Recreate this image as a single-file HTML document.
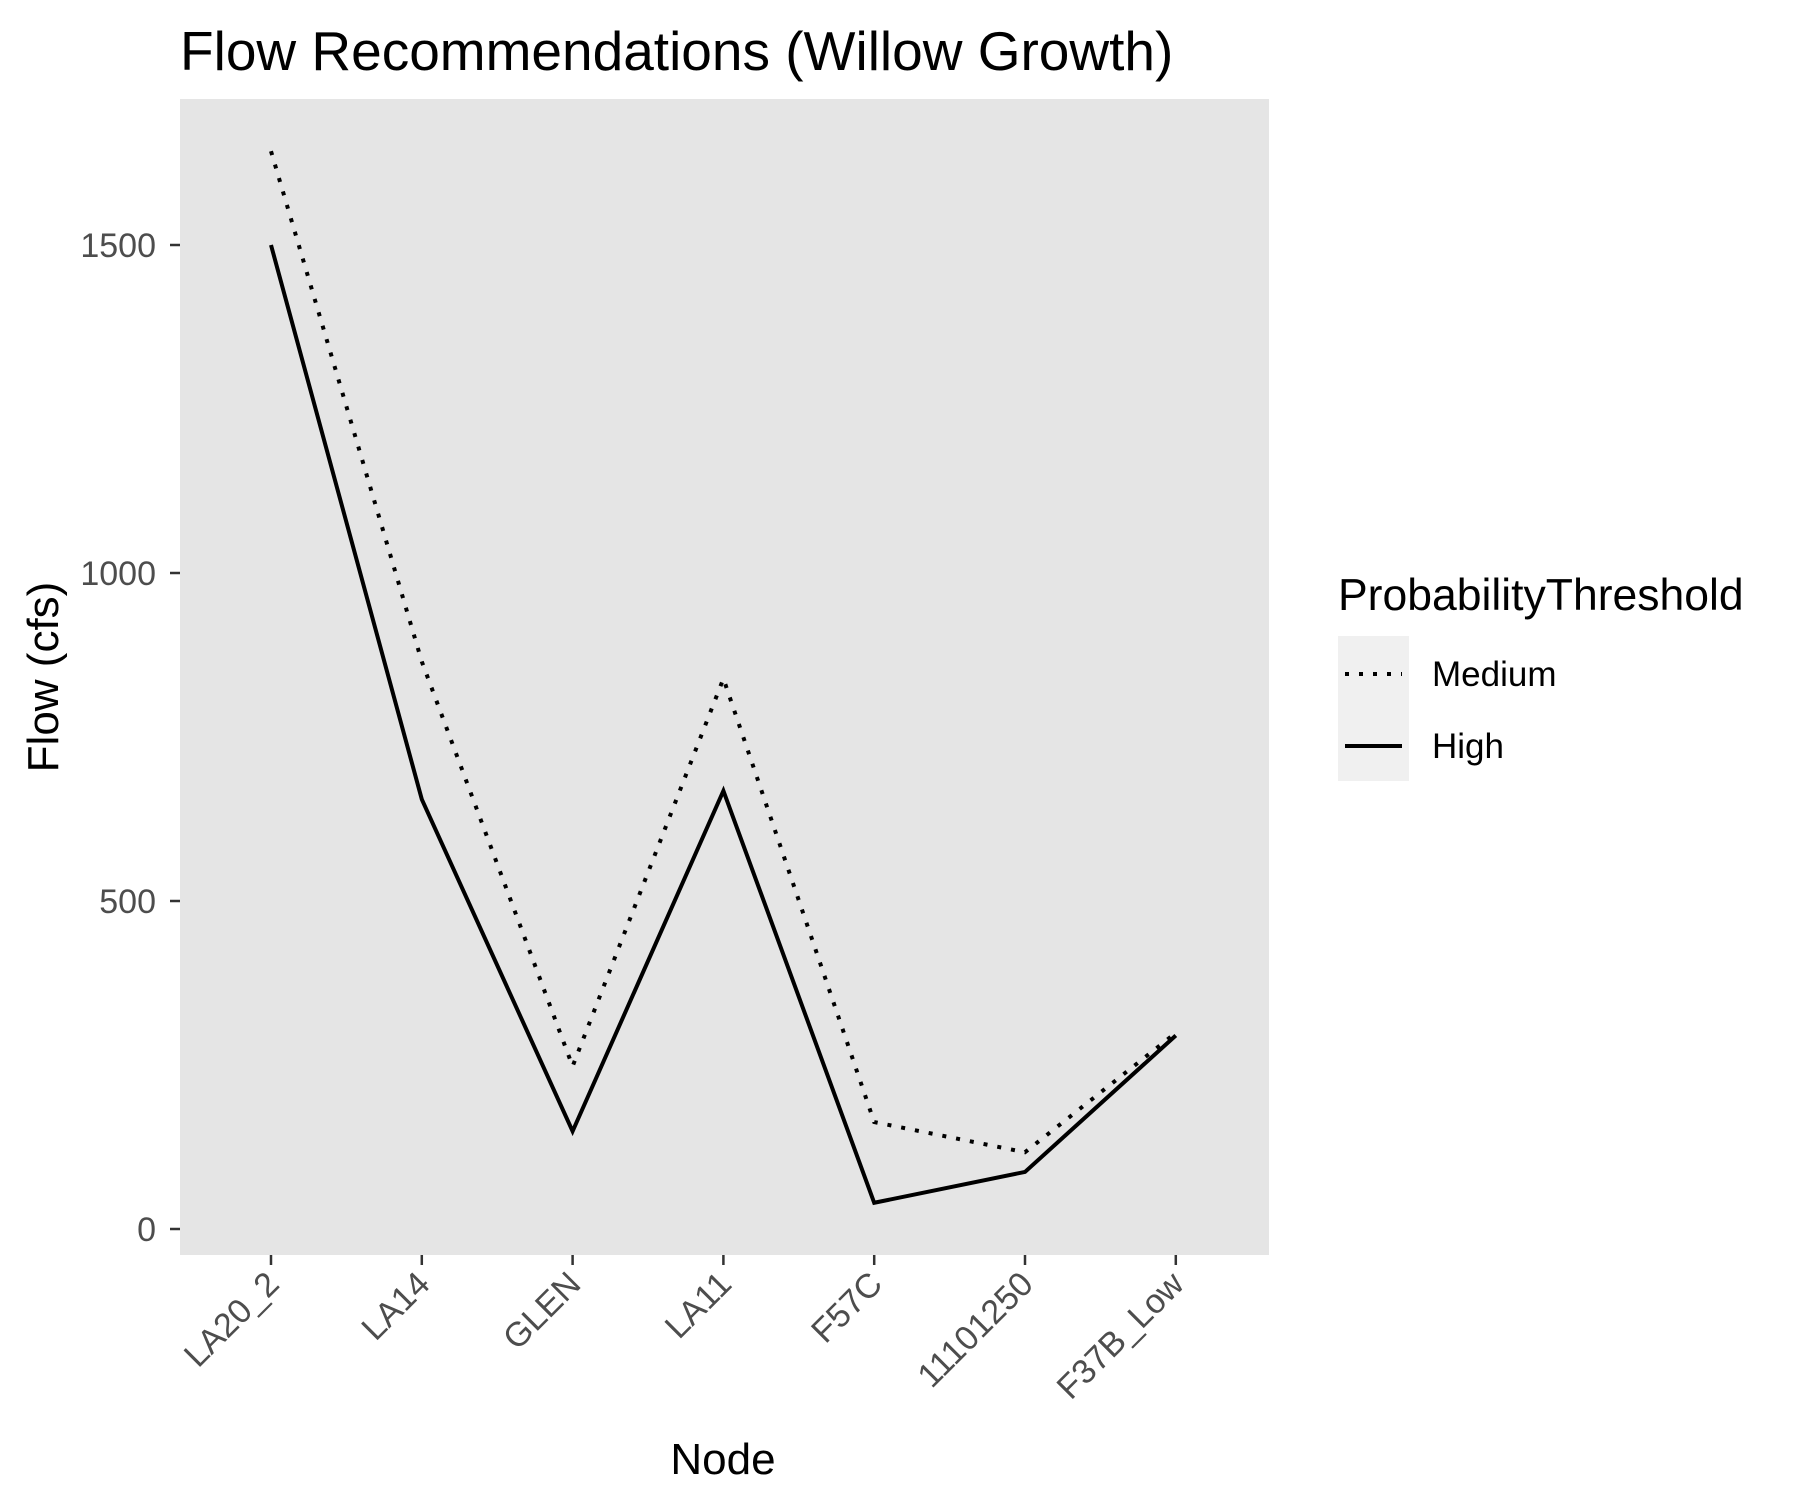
<!DOCTYPE html>
<html><head><meta charset="utf-8"><style>
body{margin:0;background:#fff}
svg{display:block;font-family:"Liberation Sans",Arial,sans-serif}
</style></head><body>
<svg id="chart" width="1800" height="1500" viewBox="0 0 1800 1500">
<text x="180" y="70" font-size="55" fill="#000">Flow Recommendations (Willow Growth)</text>
<rect x="180" y="99" width="1089" height="1156" fill="#e5e5e5"/>
<g id="grid"></g>
<g id="axes"></g>
<g id="series"></g>
<text transform="translate(58,677) rotate(-90)" text-anchor="middle" font-size="44">Flow (cfs)</text>
<text x="723" y="1474" text-anchor="middle" font-size="44">Node</text>
<g>
<text x="1338" y="610" font-size="44.5">ProbabilityThreshold</text>
<rect x="1338" y="636" width="71" height="145" fill="#f0f0f0"/>
<line x1="1345" y1="674" x2="1402" y2="674" stroke="#000" stroke-width="4" stroke-dasharray="4,10"/>
<text x="1432" y="686" font-size="35">Medium</text>
<line x1="1345" y1="746" x2="1402" y2="746" stroke="#000" stroke-width="4"/>
<text x="1432" y="758" font-size="35">High</text>
</g>
</svg>
<script>
const categories=["LA20_2","LA14","GLEN","LA11","F57C","11101250","F37B_Low"];
const highValues=[1500,655,149,668,40,87,295];
const mediumValues=[1643,865,248,839,163,117,299];
const yTicks=[0,500,1000,1500];
const NS="http://www.w3.org/2000/svg";
const x0=271,dx=150.8;
function xs(i){return x0+i*dx;}
function ys(v){return 1229-v*(984/1500);}
const axes=document.getElementById('axes');
function mk(tag,attrs,parent){const e=document.createElementNS(NS,tag);for(const k in attrs)e.setAttribute(k,attrs[k]);parent.appendChild(e);return e;}
yTicks.forEach(t=>{
 const y=ys(t);
 const tk=mk('line',{x1:170,x2:180,y1:y,y2:y,stroke:'#333','stroke-width':2.5},axes);
 
 
 const tx=mk('text',{x:156,y:y+12,'text-anchor':'end','font-size':34,fill:'#4d4d4d'},axes);
 
 
 tx.textContent=t;
});
categories.forEach((c,i)=>{
 const x=xs(i);
 const tk=mk('line',{x1:x,x2:x,y1:1255,y2:1265,stroke:'#333','stroke-width':2.5},axes);
 
 
 const tx=mk('text',{transform:`translate(${x+10},${1286}) rotate(-45)`,'text-anchor':'end','font-size':34,fill:'#4d4d4d'},axes);
 
 
 tx.textContent=c;
});
const series=document.getElementById('series');
function pts(vals){return vals.map((v,i)=>xs(i)+','+ys(v)).join(' ');}
const med=mk('polyline',{points:pts(mediumValues),fill:'none',stroke:'#000','stroke-width':4,'stroke-dasharray':'4,10'},series);


const hi=mk('polyline',{points:pts(highValues),fill:'none',stroke:'#000','stroke-width':4},series);


</script>
</body></html>
